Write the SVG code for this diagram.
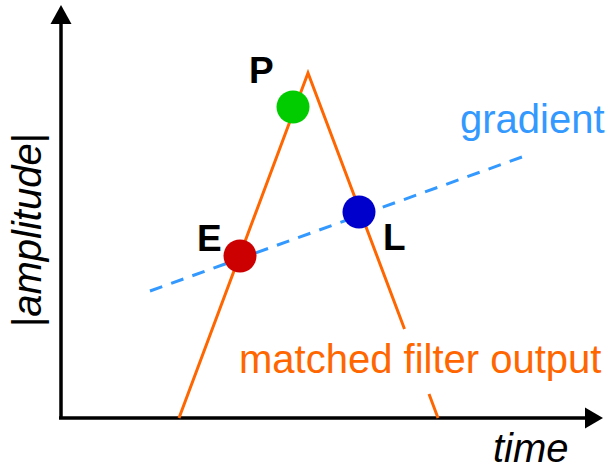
<svg xmlns="http://www.w3.org/2000/svg" width="611" height="471" viewBox="0 0 611 471">
  <style>
    .axis { stroke: #000; stroke-width: 3.5; fill: none; }
    .mf { stroke: #FF6600; stroke-width: 3; fill: none; }
    .grad { stroke: #3399FF; stroke-width: 3; fill: none; stroke-dasharray: 13 9.49; }
    .lbl { font-family: "Liberation Sans", Arial, sans-serif; font-size: 37px; font-weight: bold; fill: #000; }
    .txt { font-family: "Liberation Sans", Arial, sans-serif; font-size: 40px; }
  </style>
  <rect width="611" height="471" fill="#fff"/>
  <g id="axes">
    <line class="axis" x1="61" y1="418" x2="61" y2="20"/>
    <polygon points="61,5 50.5,24 71.5,24" fill="#000"/>
    <line class="axis" x1="59" y1="418" x2="588" y2="418"/>
    <polygon points="603,418 585,407.5 585,428.5" fill="#000"/>
    <text class="txt" x="493" y="462" font-style="italic" fill="#000">time</text>
    <text class="txt" transform="translate(41,230) rotate(-90)" text-anchor="middle" fill="#000">|<tspan font-style="italic">amplitude</tspan>|</text>
  </g>
  <g id="connectors">
    <path class="mf" d="M179,418 L308,73 L404.5,329"/>
    <path class="mf" d="M429,394 L438,418"/>
    <line class="grad" x1="150" y1="291" x2="522" y2="157"/>
  </g>
  <text class="txt" x="239" y="373" fill="#FF6600">matched filter output</text>
  <text class="txt" x="460" y="133" fill="#3399FF">gradient</text>
  <g id="node-P">
    <circle cx="293" cy="107" r="16.5" fill="#00CC00"/>
    <text class="lbl" x="249" y="83">P</text>
  </g>
  <g id="node-E">
    <circle cx="240" cy="256" r="16.5" fill="#CC0000"/>
    <text class="lbl" x="197" y="251">E</text>
  </g>
  <g id="node-L">
    <circle cx="359" cy="212" r="16.5" fill="#0000CC"/>
    <text class="lbl" x="383" y="250">L</text>
  </g>
</svg>
